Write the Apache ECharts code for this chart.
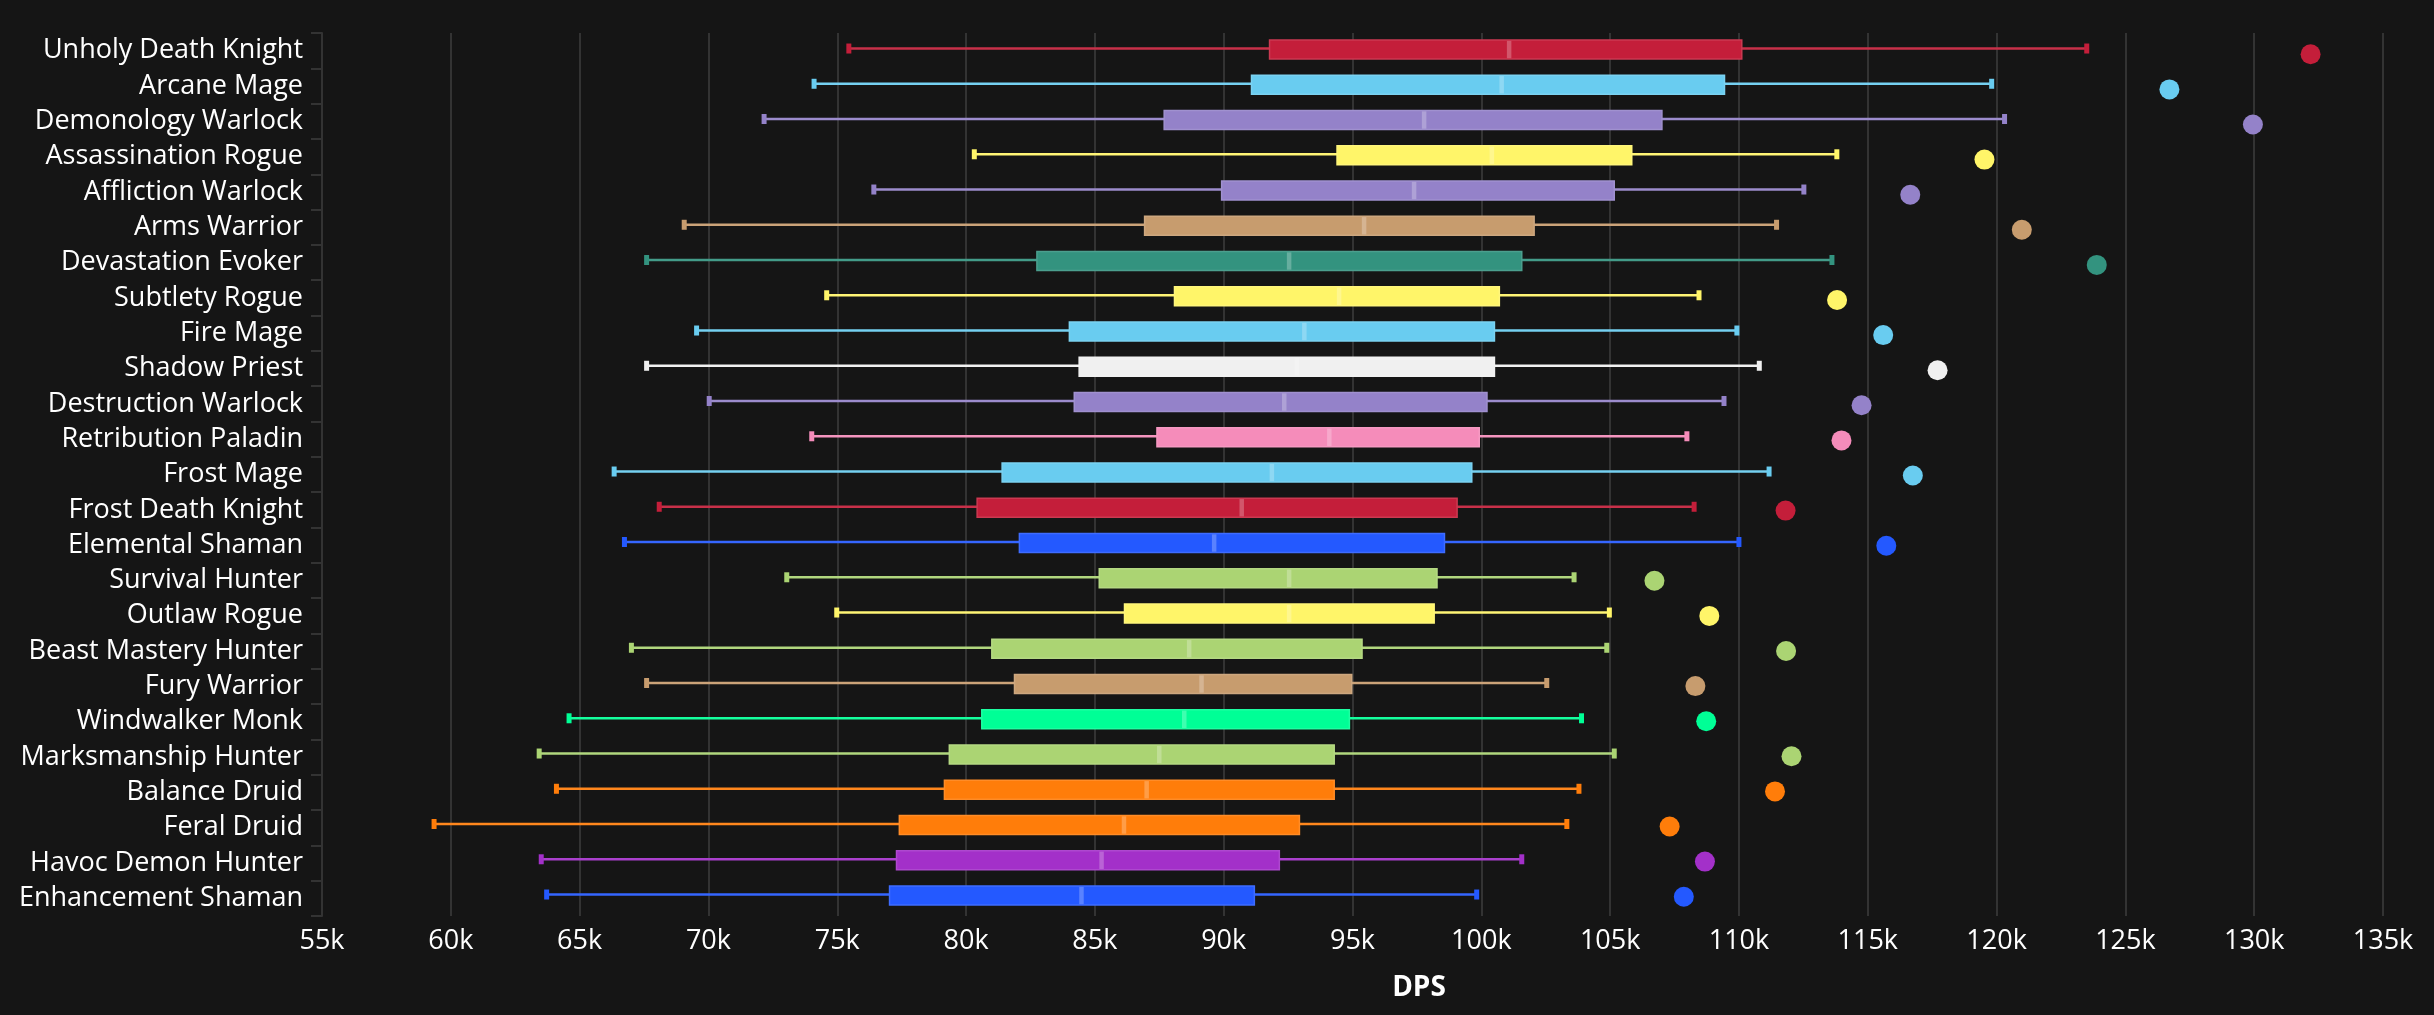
<!DOCTYPE html>
<html>
<head>
<meta charset="utf-8">
<style>
    html, body { margin: 0; padding: 0; background: #151515; }
    #chart { width: 2434px; height: 1015px; }
</style>
<script src="https://cdn.jsdelivr.net/npm/echarts@6/dist/echarts.min.js"></script>
</head>
<body>
<div id="chart"></div>
<script>
const specs = ["Unholy Death Knight", "Arcane Mage", "Demonology Warlock", "Assassination Rogue", "Affliction Warlock",
    "Arms Warrior", "Devastation Evoker", "Subtlety Rogue", "Fire Mage", "Shadow Priest", "Destruction Warlock",
    "Retribution Paladin", "Frost Mage", "Frost Death Knight", "Elemental Shaman", "Survival Hunter", "Outlaw Rogue",
    "Beast Mastery Hunter", "Fury Warrior", "Windwalker Monk", "Marksmanship Hunter", "Balance Druid", "Feral Druid",
    "Havoc Demon Hunter", "Enhancement Shaman"];
const lows = [75450, 74100, 72160, 80320, 76420, 69060, 67600, 74590, 69540, 67600, 70030, 74010, 66340,
    68090, 66740, 73040, 74980, 67010, 67600, 64590, 63430, 64100, 59350, 63510, 63720];
const q1s = [91780, 91080, 87690, 94400, 89920, 86930, 82750, 88090, 84010, 84390, 84200, 87410, 81400,
    80430, 82070, 85170, 86150, 81000, 81880, 80610, 79350, 79160, 77410, 77300, 77030];
const medians = [101080, 100790, 97780, 100410, 97390, 95450, 92540, 94480, 93130, 92840, 92350, 94100, 91870,
    90700, 89630, 92540, 92540, 88660, 89140, 88470, 87500, 87010, 86130, 85260, 84480];
const q3s = [110110, 109440, 107010, 105840, 105160, 102050, 101570, 100700, 100510, 100510, 100220, 99920, 99630,
    99060, 98570, 98280, 98170, 95370, 94970, 94880, 94290, 94290, 92940, 92160, 91190];
const highs = [123500, 119810, 120310, 113800, 112520, 111460, 113610, 108450, 109920, 110790, 109420, 107980, 111170,
    108260, 110000, 103600, 104970, 104870, 102540, 103890, 105160, 103790, 103320, 101570, 99820];
const maxes = [132190, 126710, 129950, 119530, 116650, 120980, 123890, 113810, 115600, 117710, 114760, 113980, 116750,
    111810, 115720, 106720, 108850, 111830, 108310, 108730, 112040, 111400, 107310, 108680, 107860];
const colors = ["#C41E3A", "#69CCF0", "#9482C9", "#FFF569", "#9482C9", "#C79C6E", "#33937F", "#FFF569", "#69CCF0",
    "#F0F0F0", "#9482C9", "#F58CBA", "#69CCF0", "#C41E3A", "#2459FF", "#ABD473", "#FFF569", "#ABD473", "#C79C6E",
    "#00FF96", "#ABD473", "#FF7D0A", "#FF7D0A", "#A330C9", "#2459FF"];

const FONT = "Open Sans";
const dpsTicks = (v) => v / 1000 + "k";

// one box: whisker line, end caps, box, median
function renderBox(params, api) {
    const row = api.value(0);
    const color = colors[row];
    const dark = echarts.color.lift(color, 0.25);
    const y = api.coord([0, row])[1];
    const x = (dim) => api.coord([api.value(dim), row])[0];
    const whisker = {lineWidth: 2.5, stroke: echarts.color.lift(color, 0.08)};
    return {
        type: "group",
        children: [
            {type: "line", shape: {x1: x(1), y1: y, x2: x(5), y2: y}, style: whisker},
            {type: "rect", shape: {x: x(1) - 2.5, y: y - 5, width: 5, height: 10}, style: {fill: color}},
            {type: "rect", shape: {x: x(5) - 2.5, y: y - 5, width: 5, height: 10}, style: {fill: color}},
            {
                type: "rect",
                shape: {x: x(2), y: y - 8.5, width: x(4) - x(2), height: 19},
                style: {fill: color, stroke: echarts.color.lift(color, 0.12), lineWidth: 1.5}
            },
            {type: "rect", shape: {x: x(3) - 2.25, y: y - 7.7, width: 4.5, height: 17.4}, style: {fill: dark}}
        ]
    };
}

const hiddenX = (gridIndex) => ({type: "value", gridIndex, min: 55000, max: 135000, show: false});
const hiddenY = (gridIndex) => ({type: "category", gridIndex, data: specs, inverse: true, show: false});

const chart = echarts.init(document.getElementById("chart"), null, {renderer: "canvas"});
chart.setOption({
    animation: false,
    backgroundColor: "#151515",
    textStyle: {fontFamily: FONT},
    // the boxes and the dots sit a little off the label rows, so each gets its own grid
    grid: [
        {left: 322, right: 51, top: 33, height: 883},
        {left: 322, right: 51, top: 30.9, height: 881.25},
        {left: 322, right: 51, top: 36.75, height: 877.5}
    ],
    xAxis: [
        {
            type: "value",
            gridIndex: 0,
            min: 55000,
            max: 135000,
            interval: 5000,
            name: "DPS",
            nameLocation: "middle",
            nameGap: 58,
            nameTextStyle: {color: "#ffffff", fontSize: 28, fontWeight: "bold", fontFamily: FONT, padding: [0, 0, 0, 133]},
            axisLine: {show: false},
            axisTick: {show: false},
            axisLabel: {color: "#ffffff", fontSize: 27, margin: 12, formatter: dpsTicks, hideOverlap: false},
            splitLine: {show: true, lineStyle: {color: "#333333", width: 2}}
        },
        hiddenX(1),
        hiddenX(2)
    ],
    yAxis: [
        {
            type: "category",
            gridIndex: 0,
            data: specs,
            inverse: true,
            axisLine: {show: true, lineStyle: {color: "#333333", width: 2}},
            axisTick: {show: true, length: 11, lineStyle: {color: "#333333", width: 2}},
            axisLabel: {color: "#ffffff", fontSize: 27, margin: 19, interval: 0},
            splitLine: {show: false}
        },
        hiddenY(1),
        hiddenY(2)
    ],
    series: [
        {
            type: "custom",
            xAxisIndex: 1,
            yAxisIndex: 1,
            renderItem: renderBox,
            encode: {x: [1, 2, 3, 4, 5], y: 0},
            data: specs.map((spec, i) => [i, lows[i], q1s[i], medians[i], q3s[i], highs[i]]),
            silent: true
        },
        {
            type: "scatter",
            xAxisIndex: 2,
            yAxisIndex: 2,
            symbolSize: 20,
            data: specs.map((spec, i) => ({value: [maxes[i], spec], itemStyle: {color: colors[i], opacity: 1}})),
            silent: true
        }
    ],
    graphic: [{
        type: "text",
        left: 325,
        top: -28,
        silent: true,
        style: {text: "Zoom", fill: "#000000", font: "30px " + FONT}
    }]
});
</script>
</body>
</html>
